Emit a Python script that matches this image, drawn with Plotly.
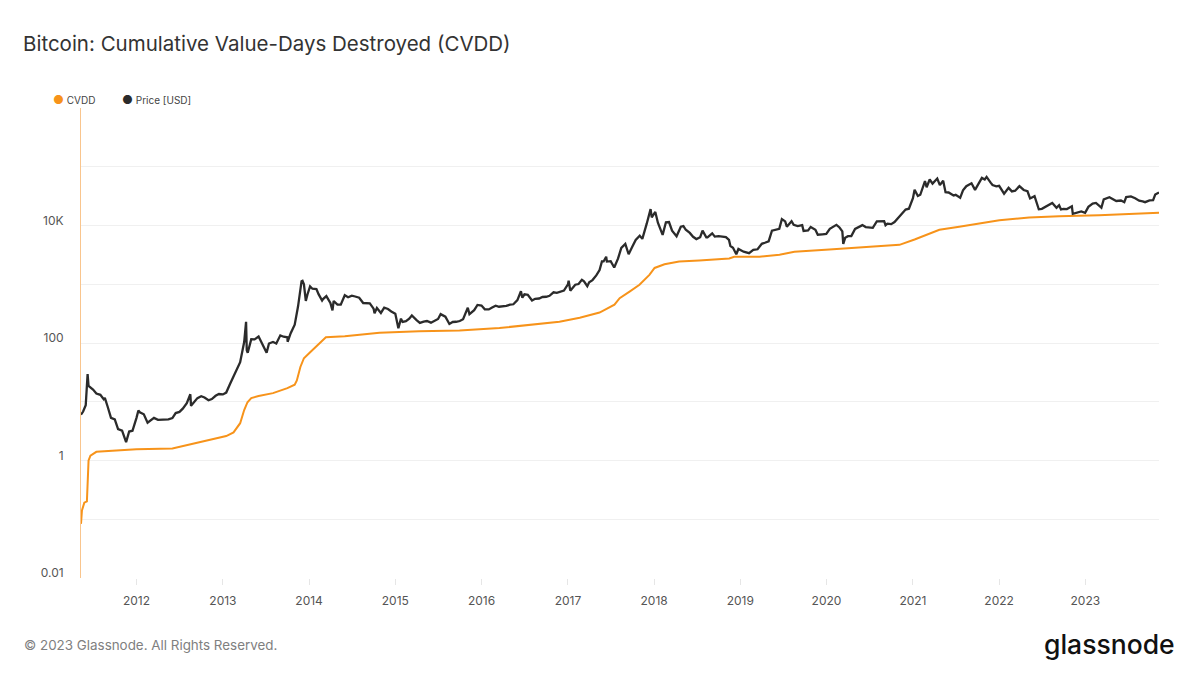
import plotly.graph_objects as go

# ---------------- data ----------------
price_dates = [
    "2011-05-11","2011-05-20","2011-05-31","2011-06-08","2011-06-12","2011-06-20","2011-07-01","2011-07-15",
    "2011-08-01","2011-08-15","2011-08-20","2011-09-01","2011-09-15","2011-10-01","2011-10-15","2011-11-01",
    "2011-11-18","2011-12-01","2011-12-15","2012-01-01","2012-01-09","2012-01-15","2012-02-01","2012-02-17",
    "2012-03-01","2012-03-15","2012-04-01","2012-04-15","2012-05-01","2012-05-15","2012-06-01","2012-06-15",
    "2012-07-01","2012-07-15","2012-08-01","2012-08-16","2012-08-19","2012-09-01","2012-09-15","2012-10-01",
    "2012-10-15","2012-11-01","2012-11-15","2012-12-01","2012-12-15","2013-01-01","2013-01-15","2013-02-01",
    "2013-02-15","2013-03-01","2013-03-15","2013-04-01","2013-04-09","2013-04-12","2013-04-16","2013-05-01",
    "2013-05-15","2013-06-01","2013-06-15","2013-07-05","2013-07-15","2013-08-01","2013-08-15","2013-09-01",
    "2013-09-15","2013-10-01","2013-10-02","2013-10-15","2013-11-01","2013-11-15","2013-11-30","2013-12-04",
    "2013-12-10","2013-12-18","2013-12-25","2014-01-05","2014-01-15","2014-02-01","2014-02-10","2014-02-25",
    "2014-03-01","2014-03-15","2014-04-01","2014-04-10","2014-04-15","2014-05-01","2014-05-15","2014-06-01",
    "2014-06-15","2014-07-01","2014-07-15","2014-08-01","2014-08-18","2014-09-01","2014-09-15","2014-10-01",
    "2014-10-05","2014-10-15","2014-11-01","2014-11-15","2014-12-01","2014-12-15","2015-01-01","2015-01-14",
    "2015-01-25","2015-02-01","2015-02-15","2015-03-01","2015-03-12","2015-04-01","2015-04-15","2015-05-01",
    "2015-05-15","2015-06-01","2015-06-15","2015-07-01","2015-07-12","2015-08-01","2015-08-18","2015-09-01",
    "2015-09-15","2015-10-01","2015-10-15","2015-11-04","2015-11-11","2015-12-01","2015-12-15","2016-01-01",
    "2016-01-15","2016-02-01","2016-02-15","2016-03-01","2016-03-15","2016-04-01","2016-04-15","2016-05-01",
    "2016-05-15","2016-06-01","2016-06-16","2016-06-22","2016-07-01","2016-07-15","2016-08-02","2016-08-15",
    "2016-09-01","2016-09-15","2016-10-01","2016-10-15","2016-11-01","2016-11-15","2016-12-01","2016-12-15",
    "2017-01-01","2017-01-04","2017-01-11","2017-02-01","2017-02-15","2017-03-01","2017-03-10","2017-03-24",
    "2017-04-01","2017-04-15","2017-05-01","2017-05-15","2017-05-25","2017-06-01","2017-06-12","2017-06-15",
    "2017-07-01","2017-07-16","2017-08-01","2017-08-15","2017-09-01","2017-09-15","2017-10-01","2017-10-15",
    "2017-11-01","2017-11-12","2017-12-01","2017-12-17","2017-12-22","2018-01-06","2018-01-17","2018-02-06",
    "2018-02-20","2018-03-05","2018-03-18","2018-04-01","2018-04-06","2018-04-24","2018-05-05","2018-05-15",
    "2018-06-01","2018-06-15","2018-06-29","2018-07-15","2018-07-25","2018-08-10","2018-08-15","2018-09-04",
    "2018-09-15","2018-10-01","2018-10-15","2018-11-01","2018-11-14","2018-11-20","2018-12-01","2018-12-15",
    "2018-12-24","2019-01-15","2019-02-07","2019-02-25","2019-03-15","2019-04-02","2019-04-15","2019-05-01",
    "2019-05-15","2019-06-01","2019-06-15","2019-06-26","2019-07-10","2019-07-17","2019-08-06","2019-08-15",
    "2019-09-01","2019-09-20","2019-09-26","2019-10-15","2019-10-26","2019-11-15","2019-11-25","2019-12-15",
    "2019-12-31","2020-01-15","2020-02-12","2020-02-25","2020-03-08","2020-03-12","2020-03-20","2020-04-01",
    "2020-04-15","2020-05-01","2020-05-15","2020-06-01","2020-06-15","2020-07-01","2020-07-15","2020-08-01",
    "2020-08-15","2020-09-01","2020-09-07","2020-09-15","2020-10-01","2020-10-15","2020-11-01","2020-11-15",
    "2020-12-01","2020-12-15","2021-01-01","2021-01-08","2021-01-22","2021-02-01","2021-02-21","2021-02-28",
    "2021-03-13","2021-03-25","2021-04-14","2021-04-25","2021-05-09","2021-05-19","2021-06-01","2021-06-22",
    "2021-07-01","2021-07-20","2021-08-01","2021-08-15","2021-09-06","2021-09-21","2021-10-01","2021-10-20",
    "2021-11-01","2021-11-09","2021-11-26","2021-12-04","2021-12-20","2022-01-01","2022-01-22","2022-02-10",
    "2022-02-24","2022-03-10","2022-03-28","2022-04-15","2022-05-01","2022-05-12","2022-05-31","2022-06-13",
    "2022-06-18","2022-07-01","2022-07-15","2022-08-01","2022-08-14","2022-09-01","2022-09-12","2022-09-20",
    "2022-10-01","2022-10-15","2022-11-05","2022-11-09","2022-11-20","2022-12-01","2022-12-15","2022-12-31",
    "2023-01-14","2023-02-01","2023-02-15","2023-03-10","2023-03-20","2023-04-13","2023-04-25","2023-05-12",
    "2023-06-01","2023-06-15","2023-06-23","2023-07-13","2023-07-31","2023-08-17","2023-09-01","2023-09-11",
    "2023-09-30","2023-10-15","2023-10-24","2023-11-01","2023-11-09",
]
price_usd = [
    6.0, 6.8, 8.7, 29.6, 18.5, 17.5, 16.1, 13.8,
    13.1, 11.0, 11.6, 8.2, 5.3, 5.0, 3.4, 3.2,
    2.05, 3.1, 3.2, 5.3, 7.1, 6.6, 6.1, 4.4,
    4.9, 5.3, 4.9, 4.95, 5.0, 5.0, 5.25, 6.4,
    6.7, 7.6, 9.4, 13.4, 8.5, 10.0, 11.5, 12.4,
    11.8, 10.6, 11.1, 12.6, 13.5, 13.3, 14.3, 20.4,
    27.0, 34.5, 47, 104, 230, 75, 68, 116,
    115, 129, 100, 68, 98, 104, 98, 135,
    128, 125, 105, 147, 205, 418, 1130, 1150,
    1000, 520, 670, 920, 840, 830, 680, 530,
    560, 630, 480, 360, 520, 450, 450, 650,
    600, 640, 620, 590, 480, 480, 475, 385,
    320, 395, 325, 400, 380, 345, 315, 178,
    260, 228, 235, 260, 295, 245, 220, 232,
    237, 222, 237, 257, 310, 281, 211, 228,
    230, 237, 255, 400, 310, 362, 445, 434,
    375, 373, 403, 433, 415, 417, 430, 450,
    457, 537, 760, 590, 676, 665, 530, 567,
    573, 608, 614, 638, 730, 713, 756, 780,
    997, 1150, 780, 985, 1010, 1190, 1120, 930,
    1080, 1180, 1420, 1750, 2450, 2450, 2950, 2440,
    2480, 1930, 2730, 4170, 4890, 3250, 4400, 5700,
    6750, 5950, 10900, 19100, 13800, 17100, 11200, 6950,
    11400, 11500, 8200, 6850, 6600, 9600, 9800, 8500,
    7500, 6450, 5900, 6350, 8200, 6300, 6300, 7400,
    6500, 6600, 6480, 6350, 5700, 4500, 4200, 3250,
    4000, 3600, 3400, 3850, 3950, 4900, 5100, 5400,
    8200, 8550, 8800, 12900, 11800, 9600, 11900, 10300,
    9800, 10200, 8100, 8300, 9500, 8500, 7000, 7100,
    7200, 8800, 10300, 9300, 8000, 4900, 6200, 6600,
    6650, 8800, 9300, 10200, 9450, 9250, 9150, 11800,
    11900, 11900, 10150, 10800, 10600, 11500, 13800, 16000,
    18800, 19400, 29400, 40700, 32000, 33500, 57500, 45000,
    61000, 52000, 63500, 49000, 58000, 37000, 36700, 32500,
    33500, 29800, 39900, 47000, 52600, 40700, 48200, 65000,
    61000, 67500, 54000, 49200, 46700, 47700, 35000, 44000,
    38300, 39400, 47100, 40500, 38500, 29000, 31800, 22500,
    19000, 19300, 20800, 23300, 24400, 20100, 22300, 18900,
    19300, 19100, 21300, 15900, 16300, 17000, 17400, 16550,
    20900, 23700, 24300, 20200, 28000, 30400, 28300, 26300,
    26800, 25100, 30600, 31400, 29200, 26600, 25900, 25100,
    26900, 27100, 33900, 35400, 36700,
]

cvdd_dates = [
    "2011-05-11","2011-05-15","2011-05-25","2011-06-05","2011-06-12","2011-06-20","2011-07-15","2011-09-01",
    "2012-01-01","2012-06-01","2012-09-01","2012-12-01","2013-01-15","2013-02-15","2013-03-15","2013-04-01",
    "2013-04-15","2013-05-01","2013-06-01","2013-08-01","2013-10-01","2013-11-01","2013-11-10","2013-11-25",
    "2013-12-10","2014-01-01","2014-01-20","2014-02-10","2014-03-13","2014-06-01","2014-10-26","2015-04-12",
    "2015-09-30","2016-03-17","2016-07-23","2016-11-26","2017-02-20","2017-05-15","2017-07-17","2017-08-08",
    "2017-09-19","2017-10-31","2017-12-12","2018-01-03","2018-02-14","2018-04-17","2018-07-11","2018-11-15",
    "2018-12-06","2019-03-23","2019-06-16","2019-08-18","2020-01-13","2020-08-12","2020-11-05","2021-01-08",
    "2021-04-23","2021-07-16","2021-10-30","2022-01-02","2022-05-08","2022-09-12","2023-02-28","2023-11-09",
]
cvdd_usd = [
    0.083, 0.14, 0.19, 0.2, 1.0, 1.2, 1.4, 1.45,
    1.55, 1.6, 1.95, 2.4, 2.6, 3.0, 4.3, 7.2,
    9.8, 11.5, 12.5, 14, 17, 19.5, 23, 39,
    55, 67, 79, 93, 125, 130, 150, 158,
    163, 180, 205, 230, 270, 330, 450, 580,
    750, 980, 1450, 1900, 2200, 2450, 2550, 2750,
    2950, 2950, 3200, 3600, 3900, 4400, 4700, 5800,
    8500, 9600, 11200, 12300, 13700, 14500, 15000, 16500,
]

year_ticks = [f"{y}-01-01" for y in range(2012, 2024)]
year_labels = [str(y) for y in range(2012, 2024)]
y_tickvals = [0.01, 0.1, 1, 10, 100, 1000, 1e4, 1e5, 1e6]
y_ticktext = ["0.01", "", "1", "", "100", "", "10K", "", ""]

ORANGE = "#f7931a"
DARK = "#2b2b2b"
FONT = "Inter"

# the page places the figure 8px in from the top-left corner (body margin),
# so all target page positions are shifted by OFF into figure coordinates
OFF = 8
W, H = 1200, 675
L = 81 - OFF
T = 108 - OFF
R = W - (1159 - OFF)
B = H - (578 - OFF)
PW, PH = W - L - R, H - T - B


def px_x(px):
    return (px - OFF - L) / PW


def px_y(py):
    return (H - B - (py - OFF)) / PH


fig = go.Figure()
fig.add_trace(go.Scatter(x=cvdd_dates, y=cvdd_usd, mode="lines", name="CVDD",
                         line=dict(color=ORANGE, width=2), showlegend=False))
fig.add_trace(go.Scatter(x=price_dates, y=price_usd, mode="lines", name="Price [USD]",
                         line=dict(color=DARK, width=2.3), showlegend=False))

fig.update_layout(
    width=W, height=H,
    paper_bgcolor="white", plot_bgcolor="white",
    margin=dict(l=L, r=R, t=T, b=B, autoexpand=False),
    font=dict(family=FONT, color="#555555", size=12),
    title=dict(text="Bitcoin: Cumulative Value-Days Destroyed (CVDD)",
               x=(23 - OFF)/W, xref="container", xanchor="left",
               y=1-(44 - OFF)/H, yref="container", yanchor="middle",
               font=dict(family=FONT, size=20.5, color="#333333")),
    xaxis=dict(type="date", range=["2011-05-11", "2023-11-09"],
               tickvals=year_ticks, ticktext=year_labels,
               showgrid=False, zeroline=False, showline=False, automargin=False,
               ticks="outside", ticklen=6, tickcolor="#e6e6e6",
               ticklabelstandoff=6,
               tickfont=dict(size=12, color="#555555")),
    yaxis=dict(type="log", range=[-2.004, 6.004],
               tickvals=y_tickvals, ticktext=y_ticktext, automargin=False,
               showgrid=True, gridcolor="#f0f0f0", gridwidth=1,
               zeroline=False, showline=True, linecolor="#f9c58d", linewidth=1,
               ticks="", ticklabelposition="outside", ticklabelstandoff=14,
               ticklabelshift=-5,
               tickfont=dict(size=12, color="#555555")),
    showlegend=False,
)

fig.add_annotation(text=f"<span style='color:{ORANGE};font-size:12px'>●</span> CVDD",
                   x=px_x(51), y=px_y(100), xref="paper", yref="paper", showarrow=False,
                   xanchor="left", yanchor="middle", font=dict(size=10, color="#444444"))
fig.add_annotation(text=f"<span style='color:{DARK};font-size:12px'>●</span> Price [USD]",
                   x=px_x(120), y=px_y(100), xref="paper", yref="paper", showarrow=False,
                   xanchor="left", yanchor="middle", font=dict(size=10, color="#444444"))
fig.add_annotation(text="© 2023 Glassnode. All Rights Reserved.",
                   x=px_x(22), y=px_y(645), xref="paper", yref="paper", showarrow=False,
                   xanchor="left", yanchor="middle", font=dict(size=13.4, color="#808080"))
fig.add_annotation(text="glassnode",
                   x=px_x(1177), y=px_y(644), xref="paper", yref="paper", showarrow=False,
                   xanchor="right", yanchor="middle",
                   font=dict(size=26.5, color="#111111", weight=500))

fig.write_html("out.html")
